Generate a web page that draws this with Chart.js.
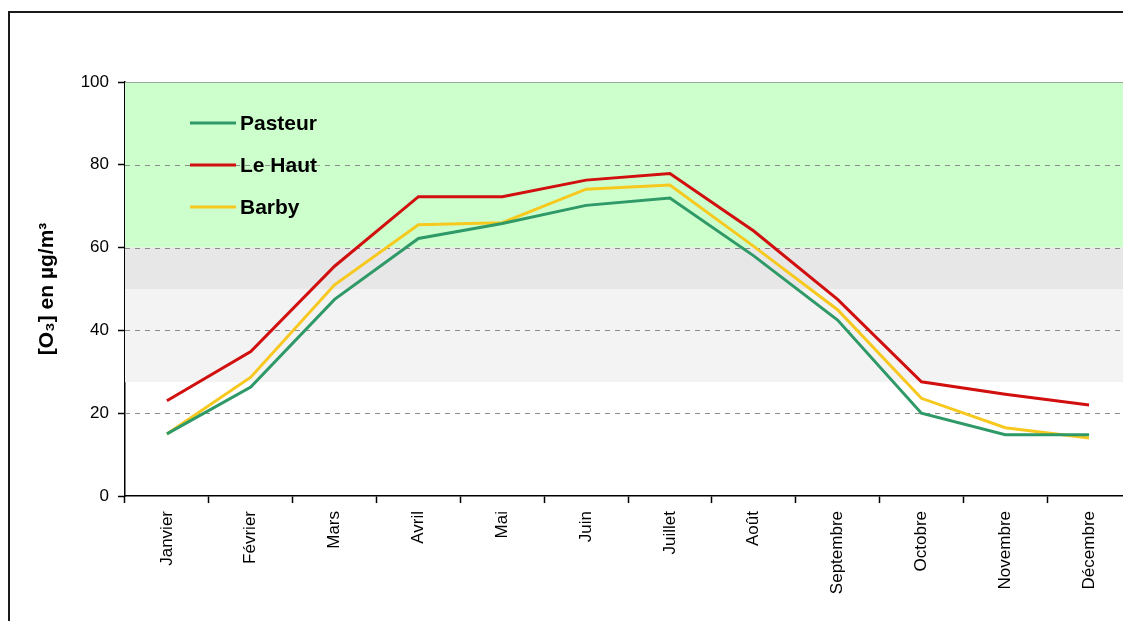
<!DOCTYPE html>
<html><head><meta charset="utf-8">
<script src="https://cdn.jsdelivr.net/npm/chart.js@4.4.1/dist/chart.umd.min.js"></script>
<style>
html,body{margin:0;padding:0;background:#fff;overflow:hidden;width:1123px;height:621px;}
#frame{position:absolute;left:8px;top:11px;width:1200px;height:700px;border:2px solid #1a1a1a;box-sizing:border-box;}
#wrap{position:absolute;left:0;top:0;width:1131px;height:621px;}
</style></head><body>
<div id="frame"></div>
<div id="wrap"><canvas id="c" width="1131" height="621"></canvas></div>
<script>
const months = ['Janvier','Février','Mars','Avril','Mai','Juin','Juillet','Août','Septembre','Octobre','Novembre','Décembre'];
const pasteur = [15, 26.3, 47.5, 62.2, 65.8, 70.2, 72, 58, 42.5, 20, 14.8, 14.8];
const leHaut  = [23, 34.9, 55.5, 72.3, 72.3, 76.3, 77.9, 64, 47.5, 27.6, 24.6, 22];
const barby   = [15, 28.7, 51, 65.5, 66, 74.1, 75.1, 60.3, 45, 23.6, 16.5, 14];
const seriesNames = ['Pasteur','Le Haut','Barby'];
const seriesColors = ['#2f9a68','#d10f0f','#f7c81e'];
const yTicks = [0, 20, 40, 60, 80, 100];
const bandFrom = [60, 50, 27.5];
const bandTo = [100, 60, 50];
const bandColors = ['#ccffcc', '#e7e7e7', '#f3f3f3'];

const bgPlugin = {
  id: 'bands',
  beforeDatasetsDraw(chart) {
    const {ctx, chartArea, scales} = chart;
    const y = scales.y;
    ctx.save();
    for (let i = 0; i < bandFrom.length; i++) {
      const top = y.getPixelForValue(bandTo[i]);
      const bot = y.getPixelForValue(bandFrom[i]);
      ctx.fillStyle = bandColors[i];
      ctx.fillRect(chartArea.left, top, chartArea.right - chartArea.left, bot - top);
    }
    ctx.strokeStyle = '#8a8a8a';
    ctx.lineWidth = 1;
    ctx.setLineDash([5, 5]);
    yTicks.forEach(v => {
      if (v === 0 || v === 100) return;
      const py = Math.round(y.getPixelForValue(v)) + 0.5;
      ctx.beginPath();
      ctx.moveTo(chartArea.left, py);
      ctx.lineTo(chartArea.right, py);
      ctx.stroke();
    });
    ctx.setLineDash([]);
    ctx.strokeStyle = '#9aa89a';
    const pTop = Math.round(y.getPixelForValue(100)) + 0.5;
    ctx.beginPath();
    ctx.moveTo(chartArea.left, pTop);
    ctx.lineTo(chartArea.right, pTop);
    ctx.stroke();
    ctx.restore();
  }
};

const legendPlugin = {
  id: 'insideLegend',
  afterDraw(chart) {
    const {ctx} = chart;
    ctx.save();
    ctx.font = 'bold 21px "Liberation Sans", Arial, sans-serif';
    ctx.textBaseline = 'middle';
    ctx.textAlign = 'left';
    chart.data.datasets.forEach((ds, i) => {
      const yy = 123 + i * 42;
      ctx.strokeStyle = ds.borderColor;
      ctx.lineWidth = 3;
      ctx.beginPath();
      ctx.moveTo(190, yy);
      ctx.lineTo(236, yy);
      ctx.stroke();
      ctx.fillStyle = '#000';
      ctx.fillText(ds.label, 240, yy + 1);
    });
    ctx.restore();
  }
};

const dataArrays = [pasteur, leHaut, barby];
new Chart(document.getElementById('c'), {
  type: 'line',
  data: {
    labels: months,
    datasets: dataArrays.map((d, i) => ({
      label: seriesNames[i],
      data: d,
      borderColor: seriesColors[i],
      backgroundColor: seriesColors[i],
      borderWidth: 3,
      pointRadius: 0,
      tension: 0,
      fill: false
    }))
  },
  options: {
    responsive: false,
    devicePixelRatio: 1,
    animation: false,
    layout: {padding: {top: 82, left: 0, right: 0, bottom: 0}},
    plugins: {legend: {display: false}, tooltip: {enabled: false}},
    scales: {
      x: {
        offset: true,
        grid: {offset: true, drawOnChartArea: false, drawTicks: true, tickLength: 7, tickColor: '#000', tickWidth: 1.5},
        border: {color: '#000', width: 1.5},
        ticks: {
          autoSkip: false, maxRotation: 90, minRotation: 90, padding: 8,
          color: '#000',
          font: {family: '"Liberation Sans", Arial, sans-serif', size: 17}
        },
        afterFit(s) { s.height = 125; }
      },
      y: {
        min: 0, max: 100,
        afterBuildTicks(s) { s.ticks = yTicks.map(v => ({value: v})); },
        grid: {display: true, drawOnChartArea: false, drawTicks: true, tickLength: 7, tickColor: '#000', tickWidth: 1.5},
        border: {color: '#000', width: 1.5},
        ticks: {
          padding: 9, color: '#000',
          font: {family: '"Liberation Sans", Arial, sans-serif', size: 17}
        },
        title: {
          display: true,
          text: '[O₃] en µg/m³',
          color: '#000',
          font: {family: '"Liberation Sans", Arial, sans-serif', size: 21, weight: 'bold'},
          padding: {top: 35, bottom: 0}
        },
        afterFit(s) { s.width = 125; }
      }
    }
  },
  plugins: [bgPlugin, legendPlugin]
});
</script>
</body></html>
